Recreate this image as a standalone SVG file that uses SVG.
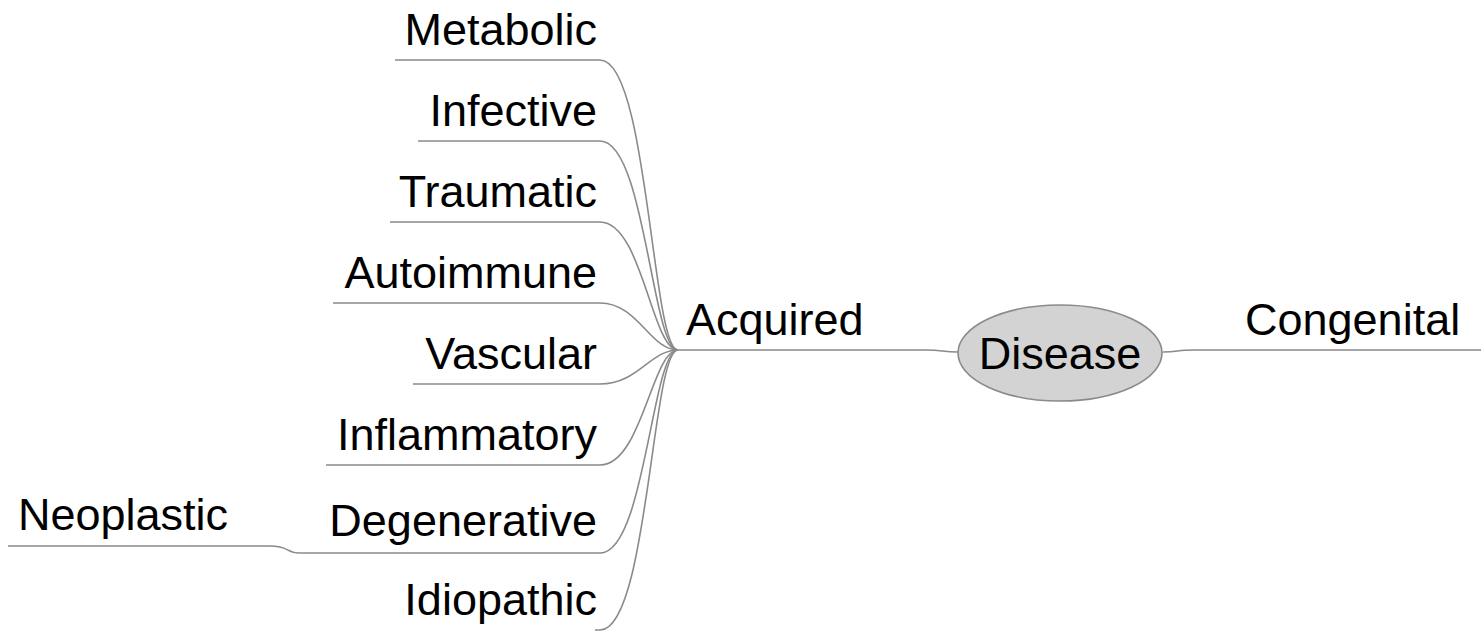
<svg xmlns="http://www.w3.org/2000/svg" width="1481" height="631" viewBox="0 0 1481 631">
<style>
text{font-family:"Liberation Sans",Arial,sans-serif;font-size:45px;fill:#000}
.r{text-anchor:end}
.c{text-anchor:middle}
#connectors path{fill:none;stroke:#8a8a8a;stroke-width:1.6}
</style>
<rect width="1481" height="631" fill="#fff"/>
<g id="connectors">
<path d="M395,60 H600 C648,60 652,350 678,350"/>
<path d="M418,141 H600 C645,141 652,350 678,350"/>
<path d="M390,222 H600 C642,222 652,350 678,350"/>
<path d="M333,303 H600 C638,303 650,350 678,350"/>
<path d="M413,384 H600 C638,384 650,350 678,350"/>
<path d="M326,465 H600 C642,465 652,350 678,350"/>
<path d="M300,553 H600 C645,553 652,350 678,350"/>
<path d="M8,546 H270 C290,546 285,553 300,553"/>
<path d="M595,630 H600 C648,630 652,350 678,350"/>
<path d="M678,350 H925 C945,350 940,352 958,352"/>
<path d="M1163,352 C1180,352 1175,350 1195,350 H1481"/>
</g>
<g id="disease"><ellipse cx="1060" cy="353" rx="102" ry="48" fill="#d3d3d3" stroke="#8a8a8a" stroke-width="1.6"/><text class="c" x="1060" y="369">Disease</text></g>
<g id="acquired"><text x="686" y="335">Acquired</text></g>
<g id="congenital"><text x="1245" y="335">Congenital</text></g>
<g id="metabolic"><text class="r" x="597" y="45">Metabolic</text></g>
<g id="infective"><text class="r" x="597" y="126">Infective</text></g>
<g id="traumatic"><text class="r" x="597" y="207">Traumatic</text></g>
<g id="autoimmune"><text class="r" x="597" y="288">Autoimmune</text></g>
<g id="vascular"><text class="r" x="597" y="369">Vascular</text></g>
<g id="inflammatory"><text class="r" x="597" y="450">Inflammatory</text></g>
<g id="degenerative"><text class="r" x="597" y="536">Degenerative</text></g>
<g id="neoplastic"><text x="18" y="530">Neoplastic</text></g>
<g id="idiopathic"><text class="r" x="597" y="615">Idiopathic</text></g>
</svg>
